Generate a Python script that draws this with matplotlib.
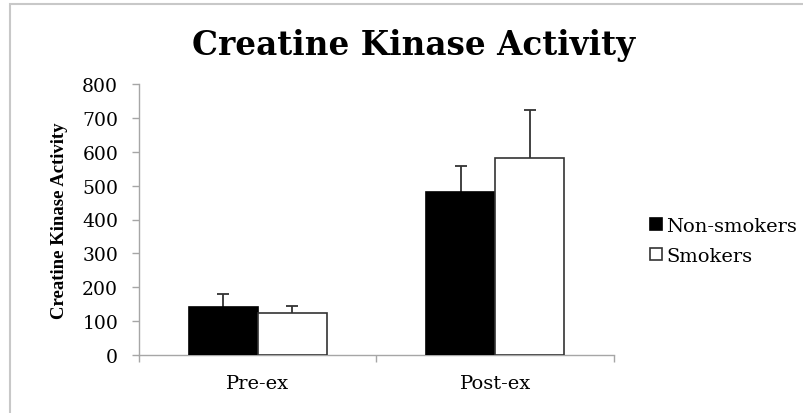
import numpy as np
import matplotlib.pyplot as plt
from matplotlib.patches import Rectangle

# 数据
categories = ['Pre-ex', 'Post-ex']
series_names = ['Non-smokers', 'Smokers']
non_smokers = [142, 480]
smokers = [123, 582]
non_smokers_err = [37, 78]
smokers_err = [22, 141]
y_ticks = [0, 100, 200, 300, 400, 500, 600, 700, 800]

serif = ['DejaVu Serif']
err_color = '#333333'

fig = plt.figure(figsize=(8.04, 4.14), dpi=100)
ax = fig.add_axes([139 / 804, 58 / 414, 475 / 804, 271 / 414])

x = np.arange(len(categories))
width = 0.29
cap = 0.05

# 柱子 + 只向上的误差线
for offset, vals, errs, face, edge, name in [
        (-width / 2, non_smokers, non_smokers_err, 'black', 'black', series_names[0]),
        (width / 2, smokers, smokers_err, 'white', err_color, series_names[1])]:
    pos = x + offset
    tops = np.array(vals) + np.array(errs)
    ax.vlines(pos, vals, tops, color=err_color, linewidth=1.3, zorder=2)
    ax.hlines(tops, pos - cap / 2, pos + cap / 2, color=err_color, linewidth=1.3, zorder=2)
    ax.bar(pos, vals, width, color=face, edgecolor=edge, linewidth=1.2, label=name, zorder=3)

ax.set_xlim(-0.5, 1.5)
ax.set_ylim(0, 800)
ax.set_yticks(y_ticks)
ax.set_yticklabels([str(v) for v in y_ticks], fontfamily=serif, fontsize=13.5)

# 类别边界刻度 + 标签
ax.set_xticks([-0.5, 0.5, 1.5])
ax.set_xticklabels([])
ax.set_xticks(x, minor=True)
ax.set_xticklabels(categories, minor=True, fontfamily=serif, fontsize=14)
ax.tick_params(axis='x', which='major', direction='out', length=5, color='#a6a6a6', width=1)
ax.tick_params(axis='x', which='minor', length=0, pad=14)
ax.tick_params(axis='y', direction='out', length=5, color='#a6a6a6', width=1, pad=10)

for s in ['top', 'right']:
    ax.spines[s].set_visible(False)
for s in ['left', 'bottom']:
    ax.spines[s].set_color('#a6a6a6')
    ax.spines[s].set_linewidth(1)

ax.set_ylabel('Creatine Kinase Activity', fontfamily=['Liberation Serif'], fontweight='bold',
              fontsize=13.5, labelpad=10)

fig.text(414 / 804, 1 - 45 / 414, 'Creatine Kinase Activity', ha='center', va='center',
         fontfamily=serif, fontweight='bold', fontsize=23.5)

leg = ax.legend(loc='center left', bbox_to_anchor=(650 / 804, 1 - 242 / 414), bbox_transform=fig.transFigure,
                frameon=False, prop={'family': serif, 'size': 14}, handlelength=0.6, handleheight=0.6,
                handletextpad=0.25, labelspacing=0.6, borderpad=0, borderaxespad=0)

# 外框
fig.patches.append(Rectangle((10 / 804, -0.1), 1.0, 1.1 - 5 / 414, transform=fig.transFigure,
                             fill=False, edgecolor='#c8c8c8', linewidth=1.5))

fig.savefig('out.png', dpi=100)
